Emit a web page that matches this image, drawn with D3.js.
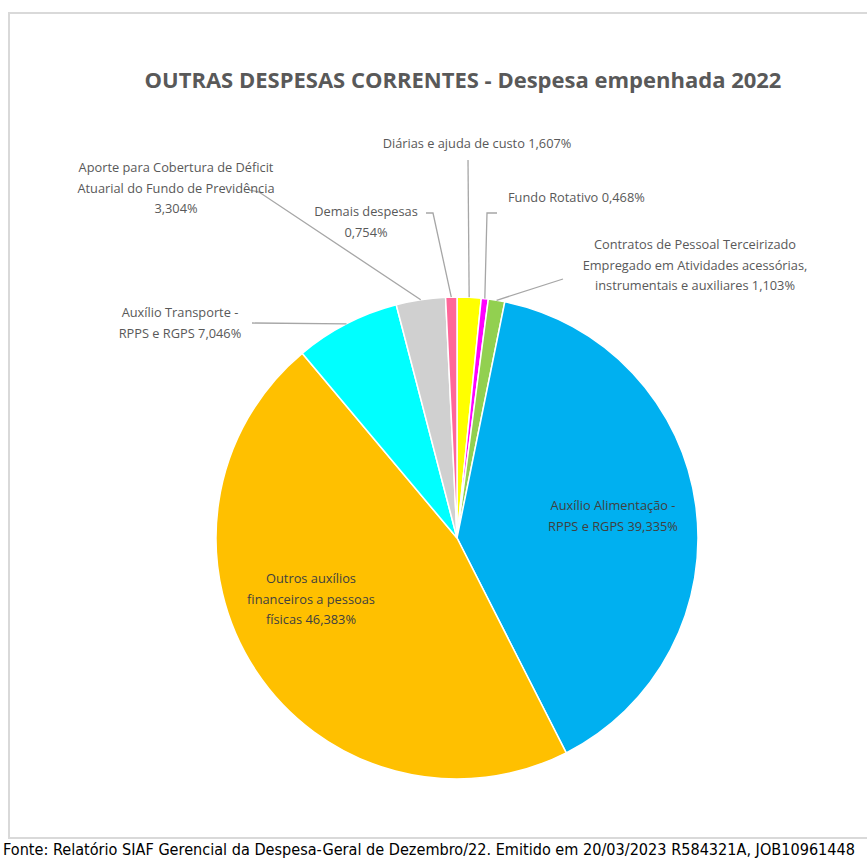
<!DOCTYPE html>
<html>
<head>
<meta charset="utf-8">
<script src="https://cdn.jsdelivr.net/npm/d3@7"></script>
<style>
  body { margin: 0; background: #fff; }
  svg { display: block; }
</style>
</head>
<body>
<svg id="chart" width="867" height="863"></svg>
<script>
// dados do gráfico (ordem do Excel: começa às 12h, sentido horário)
const categorias = [
  "Diárias e ajuda de custo",
  "Fundo Rotativo",
  "Contratos de Pessoal Terceirizado Empregado em Atividades acessórias, instrumentais e auxiliares",
  "Auxílio Alimentação - RPPS e RGPS",
  "Outros auxílios financeiros a pessoas físicas",
  "Auxílio Transporte - RPPS e RGPS",
  "Aporte para Cobertura de Déficit Atuarial do Fundo de Previdência",
  "Demais despesas"
];
const valores = [1.607, 0.468, 1.103, 39.335, 46.383, 7.046, 3.304, 0.754];
const cores = ["#FFFF00", "#FF00FF", "#92D050", "#00B0F0", "#FFC000", "#00FFFF", "#D0D0D0", "#FF6699"];

// quebras de linha dos rótulos como aparecem no gráfico
const rotulos = [
  ["Diárias e ajuda de custo 1,607%"],
  ["Fundo Rotativo 0,468%"],
  ["Contratos de Pessoal Terceirizado", "Empregado em Atividades acessórias,", "instrumentais e auxiliares 1,103%"],
  ["Auxílio Alimentação -", "RPPS e RGPS 39,335%"],
  ["Outros auxílios", "financeiros a pessoas", "físicas 46,383%"],
  ["Auxílio Transporte -", "RPPS e RGPS 7,046%"],
  ["Aporte para Cobertura de Déficit", "Atuarial do Fundo de Previdência", "3,304%"],
  ["Demais despesas", "0,754%"]
];

const titulo = "OUTRAS DESPESAS CORRENTES - Despesa empenhada 2022";
const fonte = "Fonte: Relatório SIAF Gerencial da Despesa-Geral de Dezembro/22. Emitido em 20/03/2023 R584321A, JOB10961448";

///////////////////////////////////////////////////// LAYOUT

const W = 867, H = 863;
const cx = 457, cy = 538, R = 241;

// posição de cada rótulo e ponto de quebra da linha guia
const layout = [
  { x: 477, y: 143, anchor: "middle", guia: [[468, 160]] },
  { x: 508, y: 197, anchor: "start", guia: [[497, 213], [487, 213]] },
  { x: 695, y: 244, anchor: "middle", guia: [[563, 279]] },
  { x: 613, y: 505, anchor: "middle", dentro: true },
  { x: 311, y: 578, anchor: "middle", dentro: true },
  { x: 180, y: 312, anchor: "middle", guia: [[252, 323]] },
  { x: 176, y: 167, anchor: "middle", guia: [[249, 190], [259, 192]] },
  { x: 366, y: 211, anchor: "middle", guia: [[426, 213], [433, 213]] }
];

const svg = d3.select("#chart");

// moldura da área do gráfico
svg.append("rect")
  .attr("x", 9).attr("y", 13)
  .attr("width", 880).attr("height", 825)
  .attr("fill", "#fff")
  .attr("stroke", "#d9d9d9")
  .attr("stroke-width", 2);

svg.append("text")
  .attr("x", 463).attr("y", 88)
  .attr("text-anchor", "middle")
  .attr("font-family", "'Open Sans', sans-serif")
  .attr("font-weight", "bold")
  .attr("font-size", 22)
  .attr("fill", "#595959")
  .text(titulo);

const pie = d3.pie().sort(null).value(d => d);
const arcos = pie(valores);
const arc = d3.arc().innerRadius(0).outerRadius(R);

const g = svg.append("g").attr("transform", `translate(${cx},${cy})`);

g.selectAll("path")
  .data(arcos)
  .join("path")
  .attr("d", arc)
  .attr("fill", (d, i) => cores[i])
  .attr("stroke", "#fff")
  .attr("stroke-width", 1.5);

// linhas guia: do rótulo até a borda da fatia
arcos.forEach(function (a, i) {
  const L = layout[i];
  if (L.dentro) return;
  const meio = (a.startAngle + a.endAngle) / 2;
  const borda = [cx + R * Math.sin(meio), cy - R * Math.cos(meio)];
  const pts = L.guia.concat([borda]);
  svg.append("path")
    .attr("d", d3.line()(pts))
    .attr("fill", "none")
    .attr("stroke", "#a6a6a6")
    .attr("stroke-width", 1.3);
});

// rótulos
rotulos.forEach(function (linhas, i) {
  const L = layout[i];
  const t = svg.append("text")
    .attr("text-anchor", L.anchor)
    .attr("font-family", "'Open Sans', sans-serif")
    .attr("font-size", 12.8)
    .attr("fill", L.dentro ? "#404040" : "#595959");
  linhas.forEach(function (s, k) {
    t.append("tspan")
      .attr("x", L.x)
      .attr("y", L.y + 5 + k * 20.5)
      .text(s);
  });
});

// nota de fonte (no original ela passa da borda; aqui cabe inteira)
svg.append("text")
  .attr("x", 3).attr("y", 855)
  .attr("font-family", "'Liberation Sans Narrow', 'DejaVu Sans Condensed', sans-serif")
  .attr("font-size", 15)
  .attr("textLength", 852)
  .attr("lengthAdjust", "spacingAndGlyphs")
  .attr("fill", "#000")
  .text(fonte);
</script>
</body>
</html>
